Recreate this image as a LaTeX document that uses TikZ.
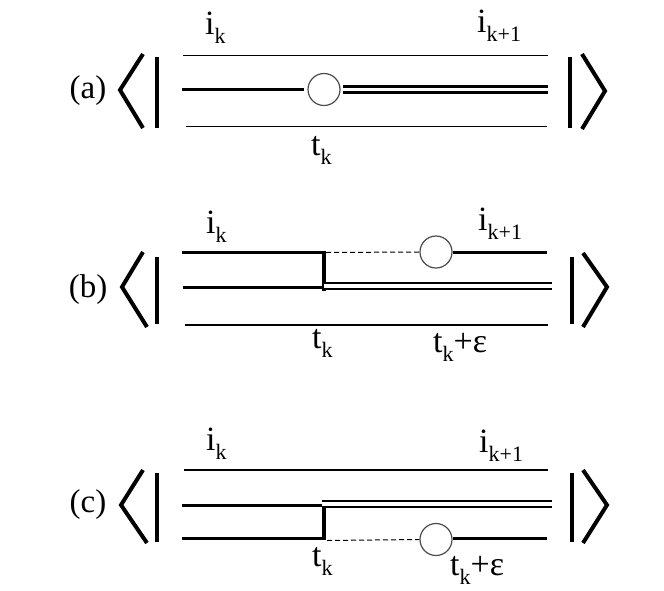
\documentclass[tikz,border=0pt]{standalone}
\usepackage{fontspec}
\setmainfont{Liberation Serif}
\newcommand\lsub[1]{\raisebox{-0.28em}{\fontsize{22}{22}\selectfont #1}}
\begin{document}
\begin{tikzpicture}[x=1pt,y=-1pt,
  thinl/.style={line width=1.5pt},
  thickl/.style={line width=3pt},
  dbl/.style={line width=2.6pt, double distance=3.2pt},
  dashl/.style={line width=1pt, dash pattern=on 5pt off 3pt},
  vbar/.style={line width=4pt},
  brk/.style={line width=4pt, line join=miter},
  circ/.style={circle, draw=black!70, line width=1.2pt, minimum size=32pt, inner sep=0pt},
  lab/.style={font=\fontsize{34}{38}\selectfont, inner sep=0pt, anchor=base west},
  tag/.style={font=\fontsize{33}{38}\selectfont, inner sep=0pt, anchor=center}]
\useasboundingbox (0,0) rectangle (664,590);

% ---------------- (a) ----------------
\node[tag] (la) at (88,91) {(a)};
\draw[brk] (143,54) -- (120,90) -- (143,128);
\draw[vbar] (157,57) -- (157,128);
\draw[vbar] (570,57) -- (570,128);
\draw[brk] (582,54) -- (605,91) -- (582,129);
\draw[thinl] (183,55.5) -- (548,55.5);
\draw[thinl] (186,126.5) -- (547,126.5);
\node[circ] (ca) at (324,89.5) {};
\coordinate (a1) at (182,89.5);
\coordinate (a2) at (548,89.5);
\draw[thickl] (a1) -- (ca.west -| 304,0) ;
\draw[dbl] (ca.east -| 343,0) -- (a2);
\node[lab] (ika) at (205,34) {i\lsub{k}};
\node[lab] (ik1a) at (477,32) {i\lsub{k+1}};
\node[lab] (tka) at (311,155) {t\lsub{k}};

% ---------------- (b) ----------------
\node[tag] (lb) at (88,290) {(b)};
\draw[brk] (143,252) -- (122,287) -- (147,327);
\draw[vbar] (157,257) -- (157,324);
\draw[vbar] (572,257) -- (572,324);
\draw[brk] (583,253) -- (607,287) -- (583,327);
\coordinate (b1) at (182,252);
\coordinate (b2) at (324,252);
\coordinate (b3) at (183,287);
\coordinate (b4) at (324,287);
\coordinate (b5) at (324,286);
\coordinate (b6) at (552,286);
\coordinate (b7) at (547,252);
\draw[thickl] (b1) -- (b2);
\draw[thickl] (b3) -- (b4);
\draw[line width=4pt] (324,250.5) -- (324,290.6);
\draw[dbl] (b5) -- (b6);
\node[circ] (cb) at (436,252) {};
\draw[dashl] (326,252.5) -- (cb.west);
\draw[thickl] (cb.east) -- (b7);
\draw[thinl] (185,325) -- (548,325);
\node[lab] (ikb) at (206,233) {i\lsub{k}};
\node[lab] (ik1b) at (478,230) {i\lsub{k+1}};
\node[lab] (tkb) at (312,348) {t\lsub{k}};
\node[lab] (tkeb) at (433,352) {t\lsub{k}+ε};

% ---------------- (c) ----------------
\node[tag] (lc) at (88,505) {(c)};
\draw[brk] (143,470) -- (121,505) -- (147,543);
\draw[vbar] (157,473) -- (157,542);
\draw[vbar] (572,473) -- (572,542);
\draw[brk] (583,470) -- (607,505) -- (583,543);
\draw[thinl] (184,470) -- (548,470);
\coordinate (c1) at (182,505);
\coordinate (c2) at (324,505);
\coordinate (c3) at (182,538);
\coordinate (c4) at (324,538);
\coordinate (c5) at (322,504);
\coordinate (c6) at (552,504);
\coordinate (c7) at (547,538);
\draw[thickl] (c1) -- (c2);
\draw[thickl] (c3) -- (c4);
\draw[line width=4pt] (324,502) -- (324,539.5);
\draw[dbl] (c5) -- (c6);
\node[circ] (cc) at (436,539.5) {};
\draw[dashl] (327,540.5) -- (cc.west);
\draw[thickl] (cc.east |- c7) -- (c7);
\node[lab] (ikc) at (206,450) {i\lsub{k}};
\node[lab] (ik1c) at (479,452) {i\lsub{k+1}};
\node[lab] (tkc) at (312,566) {t\lsub{k}};
\node[lab] (tkec) at (450,575) {t\lsub{k}+ε};
\end{tikzpicture}
\end{document}
